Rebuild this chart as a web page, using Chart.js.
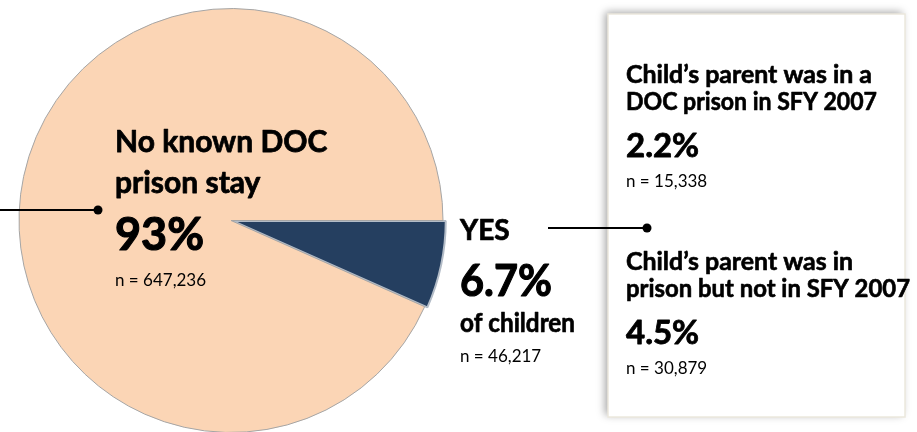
<!DOCTYPE html>
<html>
<head>
<meta charset="utf-8">
<script src="https://cdn.jsdelivr.net/npm/chart.js@4"></script>
<style>
  html, body { margin: 0; padding: 0; background: #fff; }
  #wrap { width: 917px; height: 432px; position: relative; }
</style>
</head>
<body>
<div id="wrap"><canvas id="myChart"></canvas></div>
<script>
// data
const categories = ["YES", "No known DOC prison stay"];
const counts = [46217, 647236];
const subLabels = [
    ["Child\u2019s parent was in a", "DOC prison in SFY 2007"],
    ["Child\u2019s parent was in", "prison but not in SFY 2007"]
];
const subCounts = [15338, 30879];

const total = counts.reduce((a, b) => a + b, 0);
const fmtN = (v) => "n = " + v.toLocaleString("en-US");
const pct = (v, d) => (v / total * 100).toFixed(d) + "%";

const FONT = "Lato, 'Open Sans', sans-serif";
const ctx = document.getElementById("myChart");

function txt(c, s, x, y, size, bold, maxW) {
    c.font = (bold ? "bold " : "") + size + "px " + FONT;
    c.fillStyle = "#000";
    c.textBaseline = "alphabetic";
    c.textAlign = "left";
    c.fillText(s, x, y, maxW);
    if (bold) {
        // Calibri bold is heavier than Lato bold
        c.strokeStyle = "#000";
        c.lineWidth = size / 40;
        c.lineJoin = "round";
        c.strokeText(s, x, y, maxW);
    }
}

function connector(c, x1, x2, y) {
    c.strokeStyle = "#000";
    c.lineWidth = 2;
    c.beginPath();
    c.moveTo(x1, y);
    c.lineTo(x2, y);
    c.stroke();
    c.beginPath();
    c.arc(x2, y, 4.5, 0, Math.PI * 2);
    c.fillStyle = "#000";
    c.fill();
}

const annotations = {
    id: "annotations",
    beforeDraw(chart) {
        const c = chart.ctx;
        // breakdown box with shadow
        c.save();
        c.shadowColor = "rgba(0,0,0,0.35)";
        c.shadowBlur = 8;
        c.shadowOffsetX = -3;
        c.shadowOffsetY = -2;
        c.fillStyle = "#fff";
        c.fillRect(608, 14, 297, 403);
        c.restore();
        c.save();
        c.strokeStyle = "#ebe8dd";
        c.lineWidth = 1.5;
        c.strokeRect(608, 14, 297, 403);
        c.restore();
    },
    afterDatasetsDraw(chart) {
        const c = chart.ctx;
        c.save();
        // big slice label
        const nameLines = ["No known DOC", "prison stay"];
        txt(c, nameLines[0], 115, 152, 30, true, 222);
        txt(c, nameLines[1], 115, 193, 30, true, 222);
        txt(c, pct(counts[1], 0), 115, 250, 45, true, 90);
        txt(c, fmtN(counts[1]), 115, 286, 17, false, 95);

        // small slice label
        txt(c, categories[0], 460, 240, 28, true, 50);
        txt(c, pct(counts[0], 1), 460, 296, 43, true, 92);
        txt(c, "of children", 460, 332, 27, true, 115);
        txt(c, fmtN(counts[0]), 460, 362, 17, false, 85);

        // breakdown
        const gy = [0, 187];
        const headW = [[246, 251], [227, 284]];
        for (let i = 0; i < 2; i++) {
            const b = gy[i];
            txt(c, subLabels[i][0], 626, 83 + b, 25, true, headW[i][0]);
            txt(c, subLabels[i][1], 626, 110 + b, 25, true, headW[i][1]);
            txt(c, pct(subCounts[i], 1), 626, 157 + b, 33, true, 81);
            txt(c, fmtN(subCounts[i]), 626, 187 + b, 17, false, 87);
        }

        connector(c, 0, 98, 210);
        connector(c, 548, 647, 228);
        c.restore();
    }
};

let myChart = new Chart(ctx, {
    type: "pie",
    data: {
        labels: categories,
        datasets: [
            {
                data: counts,
                backgroundColor: ["#253f60", "#fbd5b5"],
                borderColor: ["#b3bcc7", "#a5a5a5"],
                borderWidth: [2, 1],
                offset: [7, 0],
                clip: false
            }
        ]
    },
    options: {
        responsive: true,
        maintainAspectRatio: false,
        animation: false,
        rotation: 90,
        radius: 212,
        layout: {
            padding: { left: 0, right: 455, top: 9, bottom: 0 }
        },
        plugins: {
            legend: { display: false },
            tooltip: { enabled: false }
        },
        events: []
    },
    plugins: [annotations]
});
</script>
</body>
</html>
